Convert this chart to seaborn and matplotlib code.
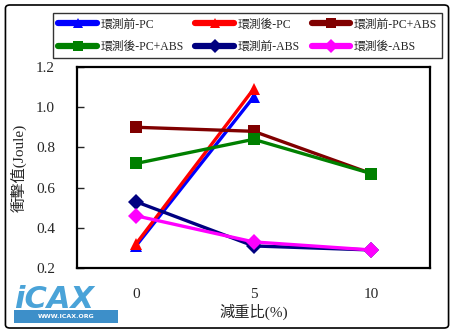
import numpy as np
import pandas as pd
import matplotlib
matplotlib.use("Agg")
import matplotlib.pyplot as plt
from matplotlib.patches import FancyBboxPatch, Rectangle
import seaborn as sns

categories = ["0", "5", "10"]
series_names = ["環測前-PC", "環測後-PC", "環測前-PC+ABS", "環測後-PC+ABS", "環測前-ABS", "環測後-ABS"]
pc_before = [0.31, 1.05, np.nan]
pc_after = [0.32, 1.09, np.nan]
pcabs_before = [0.90, 0.88, 0.67]
pcabs_after = [0.72, 0.84, 0.67]
abs_before = [0.53, 0.31, 0.29]
abs_after = [0.46, 0.33, 0.29]
yticks = [0.2, 0.4, 0.6, 0.8, 1.0, 1.2]

values = [pc_before, pc_after, pcabs_before, pcabs_after, abs_before, abs_after]
colors = ["#0000FF", "#FF0000", "#800000", "#008000", "#000080", "#FF00FF"]
markers = ["^", "^", "s", "s", "D", "D"]

rows = []
for name, vals in zip(series_names, values):
    for i, v in enumerate(vals):
        if not np.isnan(v):
            rows.append({"series": name, "pos": i, "value": v})
df = pd.DataFrame(rows)

sns.set_style("white")
plt.rcParams["font.family"] = ["Liberation Serif", "Noto Sans CJK TC"]

fig = plt.figure(figsize=(4.54, 3.33), dpi=100)
ax = fig.add_axes([0.170, 0.195, 0.777, 0.604])

sns.lineplot(data=df, x="pos", y="value", hue="series", style="series",
             hue_order=series_names, style_order=series_names,
             palette=dict(zip(series_names, colors)),
             markers=dict(zip(series_names, markers)),
             dashes=False, linewidth=2.4, markersize=8, markeredgewidth=0,
             sort=False, ax=ax)

ax.set_xlim(-0.5, 2.5)
ax.set_ylim(0.2, 1.2)
ax.set_yticks(yticks)
ax.set_yticklabels([f"{t:.1f}" for t in yticks], fontsize=11)
ax.set_xticks([0.5, 1.5])
ax.set_xticklabels([])
ax.set_xticks([0, 1, 2], minor=True)
ax.set_xticklabels(categories, minor=True, fontsize=11)
ax.tick_params(axis="x", which="major", direction="in", length=5, width=1, colors="black")
ax.tick_params(axis="x", which="minor", length=0, pad=14)
ax.tick_params(axis="y", direction="in", length=5, width=1, pad=16, left=True)
for s in ax.spines.values():
    s.set_visible(True)
    s.set_color("black")
    s.set_linewidth(1.6)
ax.set_xlabel("減重比(%)", fontsize=11, labelpad=2)
ax.set_ylabel("衝擊值(Joule)", fontsize=11, labelpad=7)

handles, labels = ax.get_legend_handles_labels()
ax.get_legend().remove()
order = [0, 3, 1, 4, 2, 5]
leg = fig.legend([handles[i] for i in order], [labels[i] for i in order],
                 ncol=3, loc="upper left",
                 bbox_to_anchor=(53 / 454, 1 - 58 / 333, 389 / 454, 45 / 333),
                 mode="expand",
                 fontsize=8.5, frameon=True, fancybox=False, handlelength=3.3,
                 handletextpad=0.25, columnspacing=0.3, labelspacing=0.9,
                 borderpad=0.45, borderaxespad=0)
leg.get_frame().set_edgecolor("black")
leg.get_frame().set_linewidth(1.0)
for h in leg.legend_handles:
    h.set_linewidth(4.5)
    h.set_markersize(7)

# outer border
fig.patches.append(FancyBboxPatch((0.012, 0.015), 0.976, 0.97, boxstyle="round,pad=0,rounding_size=0.01",
                                  transform=fig.transFigure, fill=False, edgecolor="black", linewidth=1.2))

# watermark logo
fig.text(0.03, 0.075, "iCAX", fontsize=22, fontstyle="italic", fontweight="bold",
         color="#4aa3d8", family="DejaVu Sans")
fig.patches.append(Rectangle((0.03, 0.03), 0.23, 0.04, transform=fig.transFigure,
                             facecolor="#3d8fc9", edgecolor="none"))
fig.text(0.145, 0.05, "WWW.ICAX.ORG", fontsize=4.5, color="white", ha="center", va="center",
         fontweight="bold", family="DejaVu Sans")

fig.savefig("out.png", dpi=100)
